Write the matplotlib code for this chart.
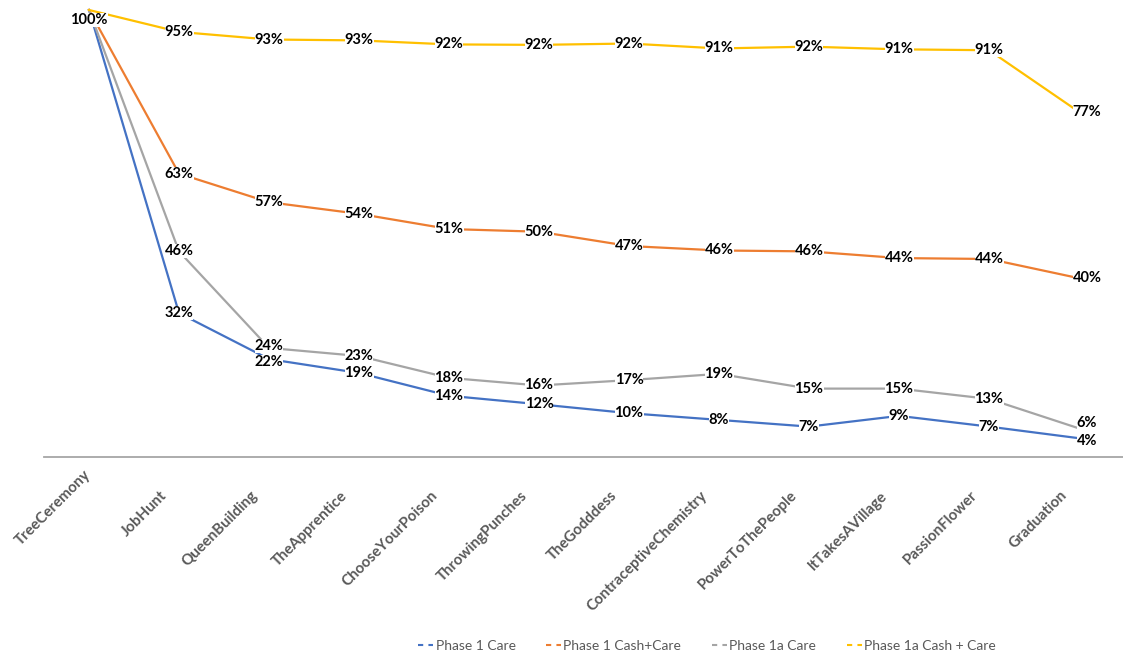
import matplotlib
matplotlib.use("Agg")
import matplotlib.pyplot as plt
from matplotlib.lines import Line2D
from matplotlib.transforms import ScaledTranslation

categories = ["TreeCeremony", "JobHunt", "QueenBuilding", "TheApprentice",
              "ChooseYourPoison", "ThrowingPunches", "TheGodddess",
              "ContraceptiveChemistry", "PowerToThePeople", "ItTakesAVillage",
              "PassionFlower", "Graduation"]

phase1_care = [1.00, 0.322, 0.219, 0.188, 0.137, 0.118, 0.098, 0.083, 0.068, 0.092, 0.068, 0.042]
phase1_cash_care = [1.00, 0.634, 0.570, 0.544, 0.510, 0.504, 0.472, 0.462, 0.460, 0.445, 0.443, 0.400]
phase1a_care = [1.00, 0.460, 0.244, 0.226, 0.177, 0.160, 0.172, 0.186, 0.153, 0.153, 0.130, 0.064]
phase1a_cash_care = [1.00, 0.951, 0.934, 0.932, 0.923, 0.922, 0.925, 0.914, 0.918, 0.912, 0.910, 0.772]

series_names = ["Phase 1 Care", "Phase 1 Cash+Care", "Phase 1a Care", "Phase 1a Cash + Care"]
series_colors = ["#4472C4", "#ED7D31", "#A5A5A5", "#FFC000"]

# label nudges in pixels (series index, point index) -> (dx, dy), like Excel does
nudges = {(0, 2): (0, -3), (2, 2): (0, 2),
          (0, 11): (8, -3), (1, 11): (8, 0), (2, 11): (8, 5), (3, 11): (8, 0)}

W, H = 1123, 654
fig = plt.figure(figsize=(W / 100, H / 100), dpi=100)
ax = fig.add_axes([44 / W, (H - 457) / H, 1080 / W, 457 / H])

x = list(range(len(categories)))
all_series = [phase1_care, phase1_cash_care, phase1a_care, phase1a_cash_care]

for vals, col in zip(all_series, series_colors):
    ax.plot(x, vals, color=col, lw=1.6, zorder=2, solid_joinstyle="round")

for k, vals in enumerate(all_series):
    for i, v in enumerate(vals):
        # first label is pushed down so it stays inside the chart area
        dx, dy = nudges.get((k, i), (0, 0))
        if i == 0:
            dy = -10
        ax.annotate(f"{round(v * 100):d}%", (i, v), xytext=(dx, dy),
                    textcoords="offset pixels", ha="center", va="center",
                    fontsize=10.5, fontweight="bold", family="Lato", color="black",
                    bbox=dict(boxstyle="square,pad=0.0", fc="white", ec="none"),
                    zorder=3)

ax.set_xlim(-0.5, len(categories) - 0.5)
ax.set_ylim(0, 457 / 447)
ax.set_yticks([])
ax.set_xticks(x)
ax.set_xticklabels(categories, rotation=45, ha="right", rotation_mode="anchor",
                   fontsize=10.8, fontweight="bold", family="Lato", color="#595959")
ax.tick_params(axis="x", length=0, pad=27)
for i, lab in enumerate(ax.get_xticklabels()):
    dx, dy = (-6, 27) if i == 0 else (-19, 6)
    lab.set_transform(lab.get_transform() + ScaledTranslation(dx / 100, dy / 100, fig.dpi_scale_trans))

for s in ["top", "right", "left"]:
    ax.spines[s].set_visible(False)
ax.spines["bottom"].set_color("#A6A6A6")
ax.spines["bottom"].set_linewidth(1.3)

handles = [Line2D([], [], color=c, lw=1.5, linestyle=(0, (2.5, 2.5))) for c in series_colors]
leg = fig.legend(handles, series_names, loc="center", bbox_to_anchor=(707 / W, 1 - 646 / H),
                 ncol=4, frameon=False, handlelength=1.1, handletextpad=0.15,
                 columnspacing=2.2, prop={"family": "Lato", "size": 10})
for t in leg.get_texts():
    t.set_color("#595959")

fig.savefig("out.png", dpi=100)
